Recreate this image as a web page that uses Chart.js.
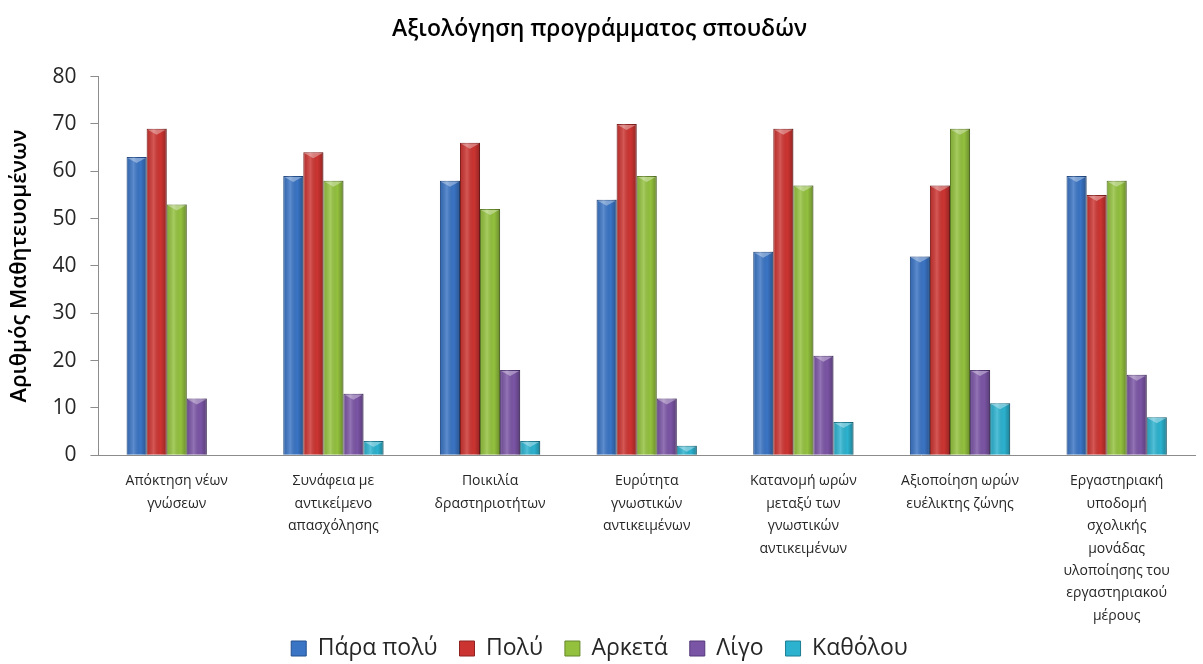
<!DOCTYPE html>
<html>
<head>
<meta charset="utf-8">
<script src="https://cdn.jsdelivr.net/npm/chart.js@4.4.1/dist/chart.umd.min.js"></script>
<style>
  html, body { margin: 0; padding: 0; background: #fff; }
  #wrap { width: 1203px; height: 664px; position: relative; }
</style>
</head>
<body>
<div id="wrap"><canvas id="chart"></canvas></div>
<script>
// Data
const categories = [
    ['Απόκτηση νέων', 'γνώσεων'],
    ['Συνάφεια με', 'αντικείμενο', 'απασχόλησης'],
    ['Ποικιλία', 'δραστηριοτήτων'],
    ['Ευρύτητα', 'γνωστικών', 'αντικειμένων'],
    ['Κατανομή ωρών', 'μεταξύ των', 'γνωστικών', 'αντικειμένων'],
    ['Αξιοποίηση ωρών', 'ευέλικτης ζώνης'],
    ['Εργαστηριακή', 'υποδομή', 'σχολικής', 'μονάδας', 'υλοποίησης του', 'εργαστηριακού', 'μέρους']
];
const seriesNames = ['Πάρα πολύ', 'Πολύ', 'Αρκετά', 'Λίγο', 'Καθόλου'];
const paraPoly = [63, 59, 58, 54, 43, 42, 59];
const poly     = [69, 64, 66, 70, 69, 57, 55];
const arketa   = [53, 58, 52, 59, 57, 69, 58];
const ligo     = [12, 13, 18, 12, 21, 18, 17];
const katholou = [0, 3, 3, 2, 7, 11, 8];
const yTicks = [0, 10, 20, 30, 40, 50, 60, 70, 80];

const colors = ['#3a74c4', '#cc3431', '#93c13e', '#7b55a5', '#2cb2cf'];
const edges  = ['#24508f', '#8e2220', '#66882a', '#54397a', '#1d7d93'];
const values = [paraPoly, poly, arketa, ligo, katholou];

const FONT = "'Open Sans', 'Noto Sans', sans-serif";
const TEXT = '#262626';

// cylinder-ish shading over each bar, using the bar elements' own geometry
const shadePlugin = {
    id: 'shade',
    afterDatasetsDraw(chart) {
        const ctx = chart.ctx;
        chart.data.datasets.forEach((ds, i) => {
            const meta = chart.getDatasetMeta(i);
            meta.data.forEach(bar => {
                const h = bar.base - bar.y;
                if (h <= 0.5) return;
                const left = bar.x - bar.width / 2;
                const g = ctx.createLinearGradient(left, 0, left + bar.width, 0);
                g.addColorStop(0, 'rgba(0,0,0,0.10)');
                g.addColorStop(0.35, 'rgba(255,255,255,0.18)');
                g.addColorStop(0.7, 'rgba(0,0,0,0.0)');
                g.addColorStop(1, 'rgba(0,0,0,0.28)');
                ctx.save();
                ctx.fillStyle = g;
                ctx.fillRect(left, bar.y, bar.width, h);
                // small bevel triangle on the top
                const t = Math.min(6, h);
                ctx.fillStyle = 'rgba(255,255,255,0.35)';
                ctx.beginPath();
                ctx.moveTo(left + 1, bar.y + 1);
                ctx.lineTo(left + bar.width - 1, bar.y + 1);
                ctx.lineTo(bar.x, bar.y + t);
                ctx.closePath();
                ctx.fill();
                ctx.restore();
            });
        });
    }
};

// legend sits a little closer to the axis labels than Chart.js would put it
const legendNudge = {
    id: 'legendNudge',
    afterLayout(chart) {
        const l = chart.legend;
        l.top -= 19;
        l.bottom = chart.height;
    }
};

new Chart(document.getElementById('chart'), {
    type: 'bar',
    data: {
        labels: categories,
        datasets: seriesNames.map((name, i) => ({
            label: name,
            data: values[i],
            backgroundColor: colors[i],
            borderColor: edges[i],
            borderWidth: 1,
            categoryPercentage: 0.64,
            barPercentage: 1.0
        }))
    },
    options: {
        responsive: true,
        maintainAspectRatio: false,
        animation: false,
        layout: { padding: { left: 4, right: 8, top: 0, bottom: 0 } },
        plugins: {
            title: {
                display: true,
                text: 'Αξιολόγηση προγράμματος σπουδών',
                color: '#000',
                font: { family: FONT, size: 23, weight: '600' },
                padding: { top: 16, bottom: 33 }
            },
            legend: {
                position: 'bottom',
                maxHeight: 30,
                labels: {
                    color: TEXT,
                    font: { family: FONT, size: 23 },
                    boxWidth: 15,
                    boxHeight: 15,
                    padding: 22
                }
            },
            tooltip: { enabled: false }
        },
        scales: {
            x: {
                grid: { display: false },
                border: { color: '#8c8c8c' },
                ticks: {
                    color: TEXT,
                    font: { family: FONT, size: 14, lineHeight: 1.6 },
                    maxRotation: 0,
                    autoSkip: false,
                    padding: 7
                }
            },
            y: {
                min: 0,
                max: 80,
                afterBuildTicks(axis) {
                    axis.ticks = yTicks.map(v => ({ value: v }));
                },
                grid: { display: true, drawOnChartArea: false, tickLength: 8, color: '#8c8c8c' },
                border: { color: '#8c8c8c' },
                ticks: {
                    color: TEXT,
                    font: { family: FONT, size: 21 },
                    padding: 14
                },
                title: {
                    display: true,
                    text: 'Αριθμός Μαθητευομένων',
                    color: '#000',
                    font: { family: FONT, size: 22, weight: '600' },
                    padding: { top: 3, bottom: 5 }
                }
            }
        }
    },
    plugins: [shadePlugin, legendNudge]
});
</script>
</body>
</html>
